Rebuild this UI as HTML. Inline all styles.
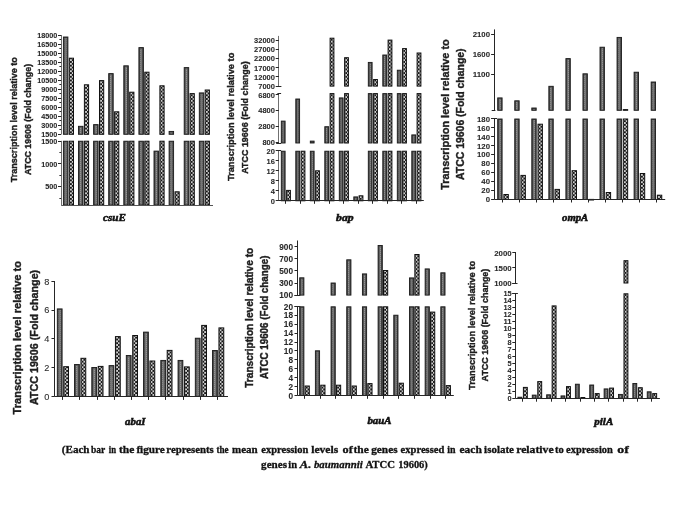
<!DOCTYPE html><html><head><meta charset="utf-8"><style>html,body{margin:0;padding:0;background:#fff;}svg{display:block;filter:blur(0.35px);}text{font-family:"Liberation Sans",sans-serif;fill:#2a2a2a;stroke:#2a2a2a;stroke-width:0.08px;} text.yt{fill:#1e1e1e;stroke:#1e1e1e;stroke-width:0.4px;} text.gi{font-family:"Liberation Serif",serif;font-style:italic;font-weight:bold;fill:#111;stroke:#111;stroke-width:0.55px;} text.cap{font-family:"Liberation Serif",serif;font-weight:bold;font-size:10.85px;fill:#111;stroke:#111;stroke-width:0.3px;}</style></head><body>
<svg width="685" height="513" viewBox="0 0 685 513">
<defs>
<pattern id="pd" patternUnits="userSpaceOnUse" width="2" height="2"><rect width="2" height="2" fill="#767676"/><rect x="0" y="0" width="1" height="1" fill="#959595"/></pattern>
<pattern id="pc" patternUnits="userSpaceOnUse" x="0.75" y="0" width="3.5" height="3.7"><rect width="3.5" height="3.7" fill="#161616"/><rect x="0" y="0" width="1.75" height="1.85" fill="#cfcfcf"/><rect x="1.75" y="1.85" width="1.75" height="1.85" fill="#cfcfcf"/></pattern>
</defs>
<rect width="685" height="513" fill="#fff"/>
<rect x="63.4" y="37" width="4.5" height="97.3" fill="#454545" stroke="#1a1a1a" stroke-width="0.9"/>
<rect x="64.7" y="38" width="1.9" height="95.7" fill="url(#pd)"/>
<rect x="63.4" y="141.2" width="4.5" height="63.8" fill="#454545" stroke="#1a1a1a" stroke-width="0.9"/>
<rect x="64.7" y="142.2" width="1.9" height="62.2" fill="url(#pd)"/>
<g transform="translate(69.3,0)"><rect x="0" y="58.2" width="4.2" height="76.1" fill="url(#pc)" stroke="#111" stroke-width="1.0"/></g>
<g transform="translate(69.3,0)"><rect x="0" y="141.2" width="4.2" height="63.8" fill="url(#pc)" stroke="#111" stroke-width="1.0"/></g>
<rect x="78.5" y="126.3" width="4.5" height="8" fill="#454545" stroke="#1a1a1a" stroke-width="0.9"/>
<rect x="79.8" y="127.3" width="1.9" height="6.4" fill="url(#pd)"/>
<rect x="78.5" y="141.2" width="4.5" height="63.8" fill="#454545" stroke="#1a1a1a" stroke-width="0.9"/>
<rect x="79.8" y="142.2" width="1.9" height="62.2" fill="url(#pd)"/>
<g transform="translate(84.4,0)"><rect x="0" y="84.8" width="4.2" height="49.5" fill="url(#pc)" stroke="#111" stroke-width="1.0"/></g>
<g transform="translate(84.4,0)"><rect x="0" y="141.2" width="4.2" height="63.8" fill="url(#pc)" stroke="#111" stroke-width="1.0"/></g>
<rect x="93.6" y="124.6" width="4.5" height="9.7" fill="#454545" stroke="#1a1a1a" stroke-width="0.9"/>
<rect x="94.9" y="125.6" width="1.9" height="8.1" fill="url(#pd)"/>
<rect x="93.6" y="141.2" width="4.5" height="63.8" fill="#454545" stroke="#1a1a1a" stroke-width="0.9"/>
<rect x="94.9" y="142.2" width="1.9" height="62.2" fill="url(#pd)"/>
<g transform="translate(99.5,0)"><rect x="0" y="80.6" width="4.2" height="53.7" fill="url(#pc)" stroke="#111" stroke-width="1.0"/></g>
<g transform="translate(99.5,0)"><rect x="0" y="141.2" width="4.2" height="63.8" fill="url(#pc)" stroke="#111" stroke-width="1.0"/></g>
<rect x="108.7" y="73.6" width="4.5" height="60.7" fill="#454545" stroke="#1a1a1a" stroke-width="0.9"/>
<rect x="110" y="74.6" width="1.9" height="59.1" fill="url(#pd)"/>
<rect x="108.7" y="141.2" width="4.5" height="63.8" fill="#454545" stroke="#1a1a1a" stroke-width="0.9"/>
<rect x="110" y="142.2" width="1.9" height="62.2" fill="url(#pd)"/>
<g transform="translate(114.6,0)"><rect x="0" y="111.8" width="4.2" height="22.5" fill="url(#pc)" stroke="#111" stroke-width="1.0"/></g>
<g transform="translate(114.6,0)"><rect x="0" y="141.2" width="4.2" height="63.8" fill="url(#pc)" stroke="#111" stroke-width="1.0"/></g>
<rect x="123.8" y="65.8" width="4.5" height="68.5" fill="#454545" stroke="#1a1a1a" stroke-width="0.9"/>
<rect x="125.1" y="66.8" width="1.9" height="66.9" fill="url(#pd)"/>
<rect x="123.8" y="141.2" width="4.5" height="63.8" fill="#454545" stroke="#1a1a1a" stroke-width="0.9"/>
<rect x="125.1" y="142.2" width="1.9" height="62.2" fill="url(#pd)"/>
<g transform="translate(129.7,0)"><rect x="0" y="92.2" width="4.2" height="42.1" fill="url(#pc)" stroke="#111" stroke-width="1.0"/></g>
<g transform="translate(129.7,0)"><rect x="0" y="141.2" width="4.2" height="63.8" fill="url(#pc)" stroke="#111" stroke-width="1.0"/></g>
<rect x="138.9" y="47.6" width="4.5" height="86.7" fill="#454545" stroke="#1a1a1a" stroke-width="0.9"/>
<rect x="140.2" y="48.6" width="1.9" height="85.1" fill="url(#pd)"/>
<rect x="138.9" y="141.2" width="4.5" height="63.8" fill="#454545" stroke="#1a1a1a" stroke-width="0.9"/>
<rect x="140.2" y="142.2" width="1.9" height="62.2" fill="url(#pd)"/>
<g transform="translate(144.8,0)"><rect x="0" y="72.2" width="4.2" height="62.1" fill="url(#pc)" stroke="#111" stroke-width="1.0"/></g>
<g transform="translate(144.8,0)"><rect x="0" y="141.2" width="4.2" height="63.8" fill="url(#pc)" stroke="#111" stroke-width="1.0"/></g>
<rect x="154" y="151.1" width="4.5" height="53.9" fill="#454545" stroke="#1a1a1a" stroke-width="0.9"/>
<rect x="155.3" y="152.1" width="1.9" height="52.3" fill="url(#pd)"/>
<g transform="translate(159.9,0)"><rect x="0" y="85.8" width="4.2" height="48.5" fill="url(#pc)" stroke="#111" stroke-width="1.0"/></g>
<g transform="translate(159.9,0)"><rect x="0" y="141.2" width="4.2" height="63.8" fill="url(#pc)" stroke="#111" stroke-width="1.0"/></g>
<rect x="169.1" y="131.4" width="4.5" height="2.9" fill="#454545" stroke="#1a1a1a" stroke-width="0.9"/>
<rect x="170.4" y="132.4" width="1.9" height="1.3" fill="url(#pd)"/>
<rect x="169.1" y="141.2" width="4.5" height="63.8" fill="#454545" stroke="#1a1a1a" stroke-width="0.9"/>
<rect x="170.4" y="142.2" width="1.9" height="62.2" fill="url(#pd)"/>
<g transform="translate(175,0)"><rect x="0" y="191.8" width="4.2" height="13.2" fill="url(#pc)" stroke="#111" stroke-width="1.0"/></g>
<rect x="184.2" y="67.6" width="4.5" height="66.7" fill="#454545" stroke="#1a1a1a" stroke-width="0.9"/>
<rect x="185.5" y="68.6" width="1.9" height="65.1" fill="url(#pd)"/>
<rect x="184.2" y="141.2" width="4.5" height="63.8" fill="#454545" stroke="#1a1a1a" stroke-width="0.9"/>
<rect x="185.5" y="142.2" width="1.9" height="62.2" fill="url(#pd)"/>
<g transform="translate(190.1,0)"><rect x="0" y="93.6" width="4.2" height="40.7" fill="url(#pc)" stroke="#111" stroke-width="1.0"/></g>
<g transform="translate(190.1,0)"><rect x="0" y="141.2" width="4.2" height="63.8" fill="url(#pc)" stroke="#111" stroke-width="1.0"/></g>
<rect x="199.3" y="92.9" width="4.5" height="41.4" fill="#454545" stroke="#1a1a1a" stroke-width="0.9"/>
<rect x="200.6" y="93.9" width="1.9" height="39.8" fill="url(#pd)"/>
<rect x="199.3" y="141.2" width="4.5" height="63.8" fill="#454545" stroke="#1a1a1a" stroke-width="0.9"/>
<rect x="200.6" y="142.2" width="1.9" height="62.2" fill="url(#pd)"/>
<g transform="translate(205.2,0)"><rect x="0" y="90" width="4.2" height="44.3" fill="url(#pc)" stroke="#111" stroke-width="1.0"/></g>
<g transform="translate(205.2,0)"><rect x="0" y="141.2" width="4.2" height="63.8" fill="url(#pc)" stroke="#111" stroke-width="1.0"/></g>
<line x1="61.5" y1="35" x2="61.5" y2="134.3" stroke="#707070" stroke-width="1"/>
<line x1="61.5" y1="140.8" x2="61.5" y2="205" stroke="#707070" stroke-width="1"/>
<line x1="61.2" y1="205.5" x2="213" y2="205.5" stroke="#555" stroke-width="1"/>
<line x1="58" y1="35.5" x2="61.2" y2="35.5" stroke="#262626" stroke-width="1"/>
<text x="57.3" y="38.38" font-size="8" font-weight="bold" text-anchor="end" textLength="20.15" lengthAdjust="spacingAndGlyphs">18000</text>
<line x1="59.4" y1="39.5" x2="61.2" y2="39.5" stroke="#262626" stroke-width="1"/>
<line x1="58" y1="44.5" x2="61.2" y2="44.5" stroke="#262626" stroke-width="1"/>
<text x="57.3" y="47.35" font-size="8" font-weight="bold" text-anchor="end" textLength="20.15" lengthAdjust="spacingAndGlyphs">16500</text>
<line x1="59.4" y1="48.5" x2="61.2" y2="48.5" stroke="#262626" stroke-width="1"/>
<line x1="58" y1="53.5" x2="61.2" y2="53.5" stroke="#262626" stroke-width="1"/>
<text x="57.3" y="56.32" font-size="8" font-weight="bold" text-anchor="end" textLength="20.15" lengthAdjust="spacingAndGlyphs">15000</text>
<line x1="59.4" y1="57.5" x2="61.2" y2="57.5" stroke="#262626" stroke-width="1"/>
<line x1="58" y1="62.5" x2="61.2" y2="62.5" stroke="#262626" stroke-width="1"/>
<text x="57.3" y="65.29" font-size="8" font-weight="bold" text-anchor="end" textLength="20.15" lengthAdjust="spacingAndGlyphs">13500</text>
<line x1="59.4" y1="66.5" x2="61.2" y2="66.5" stroke="#262626" stroke-width="1"/>
<line x1="58" y1="71.5" x2="61.2" y2="71.5" stroke="#262626" stroke-width="1"/>
<text x="57.3" y="74.26" font-size="8" font-weight="bold" text-anchor="end" textLength="20.15" lengthAdjust="spacingAndGlyphs">12000</text>
<line x1="59.4" y1="75.5" x2="61.2" y2="75.5" stroke="#262626" stroke-width="1"/>
<line x1="58" y1="80.5" x2="61.2" y2="80.5" stroke="#262626" stroke-width="1"/>
<text x="57.3" y="83.23" font-size="8" font-weight="bold" text-anchor="end" textLength="20.15" lengthAdjust="spacingAndGlyphs">10500</text>
<line x1="59.4" y1="84.5" x2="61.2" y2="84.5" stroke="#262626" stroke-width="1"/>
<line x1="58" y1="89.5" x2="61.2" y2="89.5" stroke="#262626" stroke-width="1"/>
<text x="57.3" y="92.2" font-size="8" font-weight="bold" text-anchor="end" textLength="16.12" lengthAdjust="spacingAndGlyphs">9000</text>
<line x1="59.4" y1="93.5" x2="61.2" y2="93.5" stroke="#262626" stroke-width="1"/>
<line x1="58" y1="98.5" x2="61.2" y2="98.5" stroke="#262626" stroke-width="1"/>
<text x="57.3" y="101.17" font-size="8" font-weight="bold" text-anchor="end" textLength="16.12" lengthAdjust="spacingAndGlyphs">7500</text>
<line x1="59.4" y1="102.5" x2="61.2" y2="102.5" stroke="#262626" stroke-width="1"/>
<line x1="58" y1="107.5" x2="61.2" y2="107.5" stroke="#262626" stroke-width="1"/>
<text x="57.3" y="110.14" font-size="8" font-weight="bold" text-anchor="end" textLength="16.12" lengthAdjust="spacingAndGlyphs">6000</text>
<line x1="59.4" y1="111.5" x2="61.2" y2="111.5" stroke="#262626" stroke-width="1"/>
<line x1="58" y1="116.5" x2="61.2" y2="116.5" stroke="#262626" stroke-width="1"/>
<text x="57.3" y="119.11" font-size="8" font-weight="bold" text-anchor="end" textLength="16.12" lengthAdjust="spacingAndGlyphs">4500</text>
<line x1="59.4" y1="120.5" x2="61.2" y2="120.5" stroke="#262626" stroke-width="1"/>
<line x1="58" y1="125.5" x2="61.2" y2="125.5" stroke="#262626" stroke-width="1"/>
<text x="57.3" y="128.08" font-size="8" font-weight="bold" text-anchor="end" textLength="16.12" lengthAdjust="spacingAndGlyphs">3000</text>
<line x1="59.4" y1="129.5" x2="61.2" y2="129.5" stroke="#262626" stroke-width="1"/>
<line x1="58" y1="134.5" x2="61.2" y2="134.5" stroke="#262626" stroke-width="1"/>
<text x="57.3" y="137.05" font-size="8" font-weight="bold" text-anchor="end" textLength="16.12" lengthAdjust="spacingAndGlyphs">1500</text>
<line x1="58" y1="141.5" x2="61.2" y2="141.5" stroke="#262626" stroke-width="1"/>
<text x="57.3" y="143.88" font-size="8" font-weight="bold" text-anchor="end" textLength="16.12" lengthAdjust="spacingAndGlyphs">1500</text>
<line x1="59.4" y1="152.5" x2="61.2" y2="152.5" stroke="#262626" stroke-width="1"/>
<line x1="58" y1="163.5" x2="61.2" y2="163.5" stroke="#262626" stroke-width="1"/>
<text x="57.3" y="166.68" font-size="8" font-weight="bold" text-anchor="end" textLength="16.12" lengthAdjust="spacingAndGlyphs">1000</text>
<line x1="59.4" y1="175.5" x2="61.2" y2="175.5" stroke="#262626" stroke-width="1"/>
<line x1="58" y1="186.5" x2="61.2" y2="186.5" stroke="#262626" stroke-width="1"/>
<text x="57.3" y="189.48" font-size="8" font-weight="bold" text-anchor="end" textLength="12.09" lengthAdjust="spacingAndGlyphs">500</text>
<line x1="59.4" y1="198.5" x2="61.2" y2="198.5" stroke="#262626" stroke-width="1"/>
<text transform="translate(16.6,182.3) rotate(-90)" x="0" y="0" font-size="9.6" font-weight="bold" class="yt" textLength="125.2" lengthAdjust="spacingAndGlyphs">Transcription level relative to</text>
<text transform="translate(30.6,174.9) rotate(-90)" x="0" y="0" font-size="9.6" font-weight="bold" class="yt" textLength="111" lengthAdjust="spacingAndGlyphs">ATCC 19606 (Fold change)</text>
<text x="103" y="221.2" class="gi" style="font-size:10.9px" textLength="22.9" lengthAdjust="spacingAndGlyphs" fill="#111">csuE</text>
<rect x="281.3" y="121.1" width="3.8" height="21.9" fill="#454545" stroke="#1a1a1a" stroke-width="0.9"/>
<rect x="282.6" y="122.1" width="1.2" height="20.3" fill="url(#pd)"/>
<rect x="281.3" y="151.2" width="3.8" height="49.6" fill="#454545" stroke="#1a1a1a" stroke-width="0.9"/>
<rect x="282.6" y="152.2" width="1.2" height="48" fill="url(#pd)"/>
<g transform="translate(286.6,0)"><rect x="0" y="190.4" width="3.8" height="10.4" fill="url(#pc)" stroke="#111" stroke-width="1.0"/></g>
<rect x="295.8" y="99" width="3.8" height="44" fill="#454545" stroke="#1a1a1a" stroke-width="0.9"/>
<rect x="297.1" y="100" width="1.2" height="42.4" fill="url(#pd)"/>
<rect x="295.8" y="151.2" width="3.8" height="49.6" fill="#454545" stroke="#1a1a1a" stroke-width="0.9"/>
<rect x="297.1" y="152.2" width="1.2" height="48" fill="url(#pd)"/>
<g transform="translate(301.1,0)"><rect x="0" y="151.2" width="3.8" height="49.6" fill="url(#pc)" stroke="#111" stroke-width="1.0"/></g>
<rect x="310.3" y="141.1" width="3.8" height="1.9" fill="#454545" stroke="#1a1a1a" stroke-width="0.9"/>
<rect x="310.3" y="151.2" width="3.8" height="49.6" fill="#454545" stroke="#1a1a1a" stroke-width="0.9"/>
<rect x="311.6" y="152.2" width="1.2" height="48" fill="url(#pd)"/>
<g transform="translate(315.6,0)"><rect x="0" y="170.8" width="3.8" height="30" fill="url(#pc)" stroke="#111" stroke-width="1.0"/></g>
<rect x="324.8" y="126.7" width="3.8" height="16.3" fill="#454545" stroke="#1a1a1a" stroke-width="0.9"/>
<rect x="326.1" y="127.7" width="1.2" height="14.7" fill="url(#pd)"/>
<rect x="324.8" y="151.2" width="3.8" height="49.6" fill="#454545" stroke="#1a1a1a" stroke-width="0.9"/>
<rect x="326.1" y="152.2" width="1.2" height="48" fill="url(#pd)"/>
<g transform="translate(330.1,0)"><rect x="0" y="38.2" width="3.8" height="47.9" fill="url(#pc)" stroke="#111" stroke-width="1.0"/></g>
<g transform="translate(330.1,0)"><rect x="0" y="93.6" width="3.8" height="49.4" fill="url(#pc)" stroke="#111" stroke-width="1.0"/></g>
<g transform="translate(330.1,0)"><rect x="0" y="151.2" width="3.8" height="49.6" fill="url(#pc)" stroke="#111" stroke-width="1.0"/></g>
<rect x="339.3" y="97.9" width="3.8" height="45.1" fill="#454545" stroke="#1a1a1a" stroke-width="0.9"/>
<rect x="340.6" y="98.9" width="1.2" height="43.5" fill="url(#pd)"/>
<rect x="339.3" y="151.2" width="3.8" height="49.6" fill="#454545" stroke="#1a1a1a" stroke-width="0.9"/>
<rect x="340.6" y="152.2" width="1.2" height="48" fill="url(#pd)"/>
<g transform="translate(344.6,0)"><rect x="0" y="57.7" width="3.8" height="28.4" fill="url(#pc)" stroke="#111" stroke-width="1.0"/></g>
<g transform="translate(344.6,0)"><rect x="0" y="93.6" width="3.8" height="49.4" fill="url(#pc)" stroke="#111" stroke-width="1.0"/></g>
<g transform="translate(344.6,0)"><rect x="0" y="151.2" width="3.8" height="49.6" fill="url(#pc)" stroke="#111" stroke-width="1.0"/></g>
<rect x="353.8" y="196.9" width="3.8" height="3.9" fill="#454545" stroke="#1a1a1a" stroke-width="0.9"/>
<rect x="355.1" y="197.9" width="1.2" height="2.3" fill="url(#pd)"/>
<g transform="translate(359.1,0)"><rect x="0" y="195.8" width="3.8" height="5" fill="url(#pc)" stroke="#111" stroke-width="1.0"/></g>
<rect x="368.3" y="62.4" width="3.8" height="23.7" fill="#454545" stroke="#1a1a1a" stroke-width="0.9"/>
<rect x="369.6" y="63.4" width="1.2" height="22.1" fill="url(#pd)"/>
<rect x="368.3" y="93.6" width="3.8" height="49.4" fill="#454545" stroke="#1a1a1a" stroke-width="0.9"/>
<rect x="369.6" y="94.6" width="1.2" height="47.8" fill="url(#pd)"/>
<rect x="368.3" y="151.2" width="3.8" height="49.6" fill="#454545" stroke="#1a1a1a" stroke-width="0.9"/>
<rect x="369.6" y="152.2" width="1.2" height="48" fill="url(#pd)"/>
<g transform="translate(373.6,0)"><rect x="0" y="79.5" width="3.8" height="6.6" fill="url(#pc)" stroke="#111" stroke-width="1.0"/></g>
<g transform="translate(373.6,0)"><rect x="0" y="93.6" width="3.8" height="49.4" fill="url(#pc)" stroke="#111" stroke-width="1.0"/></g>
<g transform="translate(373.6,0)"><rect x="0" y="151.2" width="3.8" height="49.6" fill="url(#pc)" stroke="#111" stroke-width="1.0"/></g>
<rect x="382.8" y="55" width="3.8" height="31.1" fill="#454545" stroke="#1a1a1a" stroke-width="0.9"/>
<rect x="384.1" y="56" width="1.2" height="29.5" fill="url(#pd)"/>
<rect x="382.8" y="93.6" width="3.8" height="49.4" fill="#454545" stroke="#1a1a1a" stroke-width="0.9"/>
<rect x="384.1" y="94.6" width="1.2" height="47.8" fill="url(#pd)"/>
<rect x="382.8" y="151.2" width="3.8" height="49.6" fill="#454545" stroke="#1a1a1a" stroke-width="0.9"/>
<rect x="384.1" y="152.2" width="1.2" height="48" fill="url(#pd)"/>
<g transform="translate(388.1,0)"><rect x="0" y="40.1" width="3.8" height="46" fill="url(#pc)" stroke="#111" stroke-width="1.0"/></g>
<g transform="translate(388.1,0)"><rect x="0" y="93.6" width="3.8" height="49.4" fill="url(#pc)" stroke="#111" stroke-width="1.0"/></g>
<g transform="translate(388.1,0)"><rect x="0" y="151.2" width="3.8" height="49.6" fill="url(#pc)" stroke="#111" stroke-width="1.0"/></g>
<rect x="397.3" y="70.2" width="3.8" height="15.9" fill="#454545" stroke="#1a1a1a" stroke-width="0.9"/>
<rect x="398.6" y="71.2" width="1.2" height="14.3" fill="url(#pd)"/>
<rect x="397.3" y="93.6" width="3.8" height="49.4" fill="#454545" stroke="#1a1a1a" stroke-width="0.9"/>
<rect x="398.6" y="94.6" width="1.2" height="47.8" fill="url(#pd)"/>
<rect x="397.3" y="151.2" width="3.8" height="49.6" fill="#454545" stroke="#1a1a1a" stroke-width="0.9"/>
<rect x="398.6" y="152.2" width="1.2" height="48" fill="url(#pd)"/>
<g transform="translate(402.6,0)"><rect x="0" y="48.6" width="3.8" height="37.5" fill="url(#pc)" stroke="#111" stroke-width="1.0"/></g>
<g transform="translate(402.6,0)"><rect x="0" y="93.6" width="3.8" height="49.4" fill="url(#pc)" stroke="#111" stroke-width="1.0"/></g>
<g transform="translate(402.6,0)"><rect x="0" y="151.2" width="3.8" height="49.6" fill="url(#pc)" stroke="#111" stroke-width="1.0"/></g>
<rect x="411.8" y="134.9" width="3.8" height="8.1" fill="#454545" stroke="#1a1a1a" stroke-width="0.9"/>
<rect x="413.1" y="135.9" width="1.2" height="6.5" fill="url(#pd)"/>
<rect x="411.8" y="151.2" width="3.8" height="49.6" fill="#454545" stroke="#1a1a1a" stroke-width="0.9"/>
<rect x="413.1" y="152.2" width="1.2" height="48" fill="url(#pd)"/>
<g transform="translate(417.1,0)"><rect x="0" y="53" width="3.8" height="33.1" fill="url(#pc)" stroke="#111" stroke-width="1.0"/></g>
<g transform="translate(417.1,0)"><rect x="0" y="93.6" width="3.8" height="49.4" fill="url(#pc)" stroke="#111" stroke-width="1.0"/></g>
<g transform="translate(417.1,0)"><rect x="0" y="151.2" width="3.8" height="49.6" fill="url(#pc)" stroke="#111" stroke-width="1.0"/></g>
<line x1="278.5" y1="35.9" x2="278.5" y2="86.1" stroke="#707070" stroke-width="1"/>
<line x1="276.2" y1="86.5" x2="281.4" y2="86.5" stroke="#262626" stroke-width="1"/>
<line x1="278.5" y1="93.2" x2="278.5" y2="143" stroke="#707070" stroke-width="1"/>
<line x1="277.4" y1="93.5" x2="281.1" y2="93.5" stroke="#262626" stroke-width="1"/>
<line x1="276.2" y1="143.5" x2="281.1" y2="143.5" stroke="#262626" stroke-width="1"/>
<line x1="278.5" y1="150.8" x2="278.5" y2="200.8" stroke="#707070" stroke-width="1"/>
<line x1="277.4" y1="150.5" x2="281.1" y2="150.5" stroke="#262626" stroke-width="1"/>
<line x1="278.9" y1="200.5" x2="423.8" y2="200.5" stroke="#262626" stroke-width="1"/>
<line x1="285.5" y1="200.8" x2="285.5" y2="203.8" stroke="#262626" stroke-width="1"/>
<line x1="300.5" y1="200.8" x2="300.5" y2="203.8" stroke="#262626" stroke-width="1"/>
<line x1="314.5" y1="200.8" x2="314.5" y2="203.8" stroke="#262626" stroke-width="1"/>
<line x1="329.5" y1="200.8" x2="329.5" y2="203.8" stroke="#262626" stroke-width="1"/>
<line x1="343.5" y1="200.8" x2="343.5" y2="203.8" stroke="#262626" stroke-width="1"/>
<line x1="358.5" y1="200.8" x2="358.5" y2="203.8" stroke="#262626" stroke-width="1"/>
<line x1="372.5" y1="200.8" x2="372.5" y2="203.8" stroke="#262626" stroke-width="1"/>
<line x1="387.5" y1="200.8" x2="387.5" y2="203.8" stroke="#262626" stroke-width="1"/>
<line x1="401.5" y1="200.8" x2="401.5" y2="203.8" stroke="#262626" stroke-width="1"/>
<line x1="416.5" y1="200.8" x2="416.5" y2="203.8" stroke="#262626" stroke-width="1"/>
<line x1="275.7" y1="40.5" x2="278.9" y2="40.5" stroke="#262626" stroke-width="1"/>
<text x="274.9" y="42.98" font-size="8" font-weight="bold" text-anchor="end" textLength="20.8" lengthAdjust="spacingAndGlyphs">32000</text>
<line x1="275.7" y1="49.5" x2="278.9" y2="49.5" stroke="#262626" stroke-width="1"/>
<text x="274.9" y="52.18" font-size="8" font-weight="bold" text-anchor="end" textLength="20.8" lengthAdjust="spacingAndGlyphs">27000</text>
<line x1="275.7" y1="58.5" x2="278.9" y2="58.5" stroke="#262626" stroke-width="1"/>
<text x="274.9" y="61.38" font-size="8" font-weight="bold" text-anchor="end" textLength="20.8" lengthAdjust="spacingAndGlyphs">22000</text>
<line x1="275.7" y1="67.5" x2="278.9" y2="67.5" stroke="#262626" stroke-width="1"/>
<text x="274.9" y="70.58" font-size="8" font-weight="bold" text-anchor="end" textLength="20.8" lengthAdjust="spacingAndGlyphs">17000</text>
<line x1="275.7" y1="76.5" x2="278.9" y2="76.5" stroke="#262626" stroke-width="1"/>
<text x="274.9" y="79.78" font-size="8" font-weight="bold" text-anchor="end" textLength="20.8" lengthAdjust="spacingAndGlyphs">12000</text>
<line x1="275.7" y1="86.5" x2="278.9" y2="86.5" stroke="#262626" stroke-width="1"/>
<text x="274.9" y="88.98" font-size="8" font-weight="bold" text-anchor="end" textLength="16.64" lengthAdjust="spacingAndGlyphs">7000</text>
<line x1="275.7" y1="94.5" x2="278.9" y2="94.5" stroke="#262626" stroke-width="1"/>
<text x="274.9" y="97.58" font-size="8" font-weight="bold" text-anchor="end" textLength="16.64" lengthAdjust="spacingAndGlyphs">6800</text>
<line x1="275.7" y1="110.5" x2="278.9" y2="110.5" stroke="#262626" stroke-width="1"/>
<text x="274.9" y="113.41" font-size="8" font-weight="bold" text-anchor="end" textLength="16.64" lengthAdjust="spacingAndGlyphs">4800</text>
<line x1="275.7" y1="126.5" x2="278.9" y2="126.5" stroke="#262626" stroke-width="1"/>
<text x="274.9" y="129.24" font-size="8" font-weight="bold" text-anchor="end" textLength="16.64" lengthAdjust="spacingAndGlyphs">2800</text>
<line x1="275.7" y1="142.5" x2="278.9" y2="142.5" stroke="#262626" stroke-width="1"/>
<text x="274.9" y="145.07" font-size="8" font-weight="bold" text-anchor="end" textLength="12.48" lengthAdjust="spacingAndGlyphs">800</text>
<line x1="275.7" y1="150.5" x2="278.9" y2="150.5" stroke="#262626" stroke-width="1"/>
<text x="274.9" y="153.68" font-size="8" font-weight="bold" text-anchor="end" textLength="8.32" lengthAdjust="spacingAndGlyphs">20</text>
<line x1="275.7" y1="160.5" x2="278.9" y2="160.5" stroke="#262626" stroke-width="1"/>
<text x="274.9" y="163.68" font-size="8" font-weight="bold" text-anchor="end" textLength="8.32" lengthAdjust="spacingAndGlyphs">16</text>
<line x1="275.7" y1="170.5" x2="278.9" y2="170.5" stroke="#262626" stroke-width="1"/>
<text x="274.9" y="173.68" font-size="8" font-weight="bold" text-anchor="end" textLength="8.32" lengthAdjust="spacingAndGlyphs">12</text>
<line x1="275.7" y1="180.5" x2="278.9" y2="180.5" stroke="#262626" stroke-width="1"/>
<text x="274.9" y="183.68" font-size="8" font-weight="bold" text-anchor="end" textLength="4.16" lengthAdjust="spacingAndGlyphs">8</text>
<line x1="275.7" y1="190.5" x2="278.9" y2="190.5" stroke="#262626" stroke-width="1"/>
<text x="274.9" y="193.68" font-size="8" font-weight="bold" text-anchor="end" textLength="4.16" lengthAdjust="spacingAndGlyphs">4</text>
<line x1="275.7" y1="200.5" x2="278.9" y2="200.5" stroke="#262626" stroke-width="1"/>
<text x="274.9" y="203.68" font-size="8" font-weight="bold" text-anchor="end" textLength="4.16" lengthAdjust="spacingAndGlyphs">0</text>
<text transform="translate(234.2,181.1) rotate(-90)" x="0" y="0" font-size="9.8" font-weight="bold" class="yt" textLength="128.4" lengthAdjust="spacingAndGlyphs">Transcription level relative to</text>
<text transform="translate(247.8,173.7) rotate(-90)" x="0" y="0" font-size="9.8" font-weight="bold" class="yt" textLength="112.4" lengthAdjust="spacingAndGlyphs">ATCC 19606 (Fold change)</text>
<text x="336.1" y="220.7" class="gi" style="font-size:10.9px" textLength="17.5" lengthAdjust="spacingAndGlyphs" fill="#111">bap</text>
<rect x="497.7" y="97.9" width="4.4" height="12.4" fill="#454545" stroke="#1a1a1a" stroke-width="0.9"/>
<rect x="499" y="98.9" width="1.8" height="10.8" fill="url(#pd)"/>
<rect x="497.7" y="119" width="4.4" height="80.5" fill="#454545" stroke="#1a1a1a" stroke-width="0.9"/>
<rect x="499" y="120" width="1.8" height="78.9" fill="url(#pd)"/>
<g transform="translate(503.9,0)"><rect x="0" y="194.5" width="4.4" height="5" fill="url(#pc)" stroke="#111" stroke-width="1.0"/></g>
<rect x="514.75" y="100.8" width="4.4" height="9.5" fill="#454545" stroke="#1a1a1a" stroke-width="0.9"/>
<rect x="516.05" y="101.8" width="1.8" height="7.9" fill="url(#pd)"/>
<rect x="514.75" y="119" width="4.4" height="80.5" fill="#454545" stroke="#1a1a1a" stroke-width="0.9"/>
<rect x="516.05" y="120" width="1.8" height="78.9" fill="url(#pd)"/>
<g transform="translate(520.95,0)"><rect x="0" y="175.4" width="4.4" height="24.1" fill="url(#pc)" stroke="#111" stroke-width="1.0"/></g>
<rect x="531.8" y="108" width="4.4" height="2.3" fill="#454545" stroke="#1a1a1a" stroke-width="0.9"/>
<rect x="533.1" y="109" width="1.8" height="0.7" fill="url(#pd)"/>
<rect x="531.8" y="119" width="4.4" height="80.5" fill="#454545" stroke="#1a1a1a" stroke-width="0.9"/>
<rect x="533.1" y="120" width="1.8" height="78.9" fill="url(#pd)"/>
<g transform="translate(538,0)"><rect x="0" y="124.2" width="4.4" height="75.3" fill="url(#pc)" stroke="#111" stroke-width="1.0"/></g>
<rect x="548.85" y="86.3" width="4.4" height="24" fill="#454545" stroke="#1a1a1a" stroke-width="0.9"/>
<rect x="550.15" y="87.3" width="1.8" height="22.4" fill="url(#pd)"/>
<rect x="548.85" y="119" width="4.4" height="80.5" fill="#454545" stroke="#1a1a1a" stroke-width="0.9"/>
<rect x="550.15" y="120" width="1.8" height="78.9" fill="url(#pd)"/>
<g transform="translate(555.05,0)"><rect x="0" y="189.4" width="4.4" height="10.1" fill="url(#pc)" stroke="#111" stroke-width="1.0"/></g>
<rect x="565.9" y="58.6" width="4.4" height="51.7" fill="#454545" stroke="#1a1a1a" stroke-width="0.9"/>
<rect x="567.2" y="59.6" width="1.8" height="50.1" fill="url(#pd)"/>
<rect x="565.9" y="119" width="4.4" height="80.5" fill="#454545" stroke="#1a1a1a" stroke-width="0.9"/>
<rect x="567.2" y="120" width="1.8" height="78.9" fill="url(#pd)"/>
<g transform="translate(572.1,0)"><rect x="0" y="170.7" width="4.4" height="28.8" fill="url(#pc)" stroke="#111" stroke-width="1.0"/></g>
<rect x="582.95" y="73.8" width="4.4" height="36.5" fill="#454545" stroke="#1a1a1a" stroke-width="0.9"/>
<rect x="584.25" y="74.8" width="1.8" height="34.9" fill="url(#pd)"/>
<rect x="582.95" y="119" width="4.4" height="80.5" fill="#454545" stroke="#1a1a1a" stroke-width="0.9"/>
<rect x="584.25" y="120" width="1.8" height="78.9" fill="url(#pd)"/>
<g transform="translate(589.15,0)"><rect x="0" y="199.4" width="4.4" height="0.6" fill="url(#pc)" stroke="#111" stroke-width="1.0"/></g>
<rect x="600" y="47.2" width="4.4" height="63.1" fill="#454545" stroke="#1a1a1a" stroke-width="0.9"/>
<rect x="601.3" y="48.2" width="1.8" height="61.5" fill="url(#pd)"/>
<rect x="600" y="119" width="4.4" height="80.5" fill="#454545" stroke="#1a1a1a" stroke-width="0.9"/>
<rect x="601.3" y="120" width="1.8" height="78.9" fill="url(#pd)"/>
<g transform="translate(606.2,0)"><rect x="0" y="192.5" width="4.4" height="7" fill="url(#pc)" stroke="#111" stroke-width="1.0"/></g>
<rect x="617.05" y="37.4" width="4.4" height="72.9" fill="#454545" stroke="#1a1a1a" stroke-width="0.9"/>
<rect x="618.35" y="38.4" width="1.8" height="71.3" fill="url(#pd)"/>
<rect x="617.05" y="119" width="4.4" height="80.5" fill="#454545" stroke="#1a1a1a" stroke-width="0.9"/>
<rect x="618.35" y="120" width="1.8" height="78.9" fill="url(#pd)"/>
<g transform="translate(623.25,0)"><rect x="0" y="109.6" width="4.4" height="0.7" fill="url(#pc)" stroke="#111" stroke-width="1.0"/></g>
<g transform="translate(623.25,0)"><rect x="0" y="119" width="4.4" height="80.5" fill="url(#pc)" stroke="#111" stroke-width="1.0"/></g>
<rect x="634.1" y="72.2" width="4.4" height="38.1" fill="#454545" stroke="#1a1a1a" stroke-width="0.9"/>
<rect x="635.4" y="73.2" width="1.8" height="36.5" fill="url(#pd)"/>
<rect x="634.1" y="119" width="4.4" height="80.5" fill="#454545" stroke="#1a1a1a" stroke-width="0.9"/>
<rect x="635.4" y="120" width="1.8" height="78.9" fill="url(#pd)"/>
<g transform="translate(640.3,0)"><rect x="0" y="173.5" width="4.4" height="26" fill="url(#pc)" stroke="#111" stroke-width="1.0"/></g>
<rect x="651.15" y="82" width="4.4" height="28.3" fill="#454545" stroke="#1a1a1a" stroke-width="0.9"/>
<rect x="652.45" y="83" width="1.8" height="26.7" fill="url(#pd)"/>
<rect x="651.15" y="119" width="4.4" height="80.5" fill="#454545" stroke="#1a1a1a" stroke-width="0.9"/>
<rect x="652.45" y="120" width="1.8" height="78.9" fill="url(#pd)"/>
<g transform="translate(657.35,0)"><rect x="0" y="195.2" width="4.4" height="4.3" fill="url(#pc)" stroke="#111" stroke-width="1.0"/></g>
<line x1="494.5" y1="29.4" x2="494.5" y2="110.3" stroke="#262626" stroke-width="1"/>
<line x1="491.7" y1="110.5" x2="495.4" y2="110.5" stroke="#262626" stroke-width="1"/>
<line x1="494.5" y1="118.6" x2="494.5" y2="199.5" stroke="#262626" stroke-width="1"/>
<line x1="491.2" y1="118.5" x2="497" y2="118.5" stroke="#262626" stroke-width="1"/>
<line x1="494.4" y1="199.5" x2="665.2" y2="199.5" stroke="#262626" stroke-width="1"/>
<line x1="502.5" y1="199.5" x2="502.5" y2="202.5" stroke="#262626" stroke-width="1"/>
<line x1="519.5" y1="199.5" x2="519.5" y2="202.5" stroke="#262626" stroke-width="1"/>
<line x1="536.5" y1="199.5" x2="536.5" y2="202.5" stroke="#262626" stroke-width="1"/>
<line x1="553.5" y1="199.5" x2="553.5" y2="202.5" stroke="#262626" stroke-width="1"/>
<line x1="571.5" y1="199.5" x2="571.5" y2="202.5" stroke="#262626" stroke-width="1"/>
<line x1="588.5" y1="199.5" x2="588.5" y2="202.5" stroke="#262626" stroke-width="1"/>
<line x1="605.5" y1="199.5" x2="605.5" y2="202.5" stroke="#262626" stroke-width="1"/>
<line x1="622.5" y1="199.5" x2="622.5" y2="202.5" stroke="#262626" stroke-width="1"/>
<line x1="639.5" y1="199.5" x2="639.5" y2="202.5" stroke="#262626" stroke-width="1"/>
<line x1="656.5" y1="199.5" x2="656.5" y2="202.5" stroke="#262626" stroke-width="1"/>
<line x1="491.1" y1="34.5" x2="494.4" y2="34.5" stroke="#262626" stroke-width="1"/>
<text x="490" y="36.92" font-size="8.1" font-weight="bold" text-anchor="end" textLength="17.32" lengthAdjust="spacingAndGlyphs">2100</text>
<line x1="491.1" y1="54.5" x2="494.4" y2="54.5" stroke="#262626" stroke-width="1"/>
<text x="490" y="56.97" font-size="8.1" font-weight="bold" text-anchor="end" textLength="17.32" lengthAdjust="spacingAndGlyphs">1600</text>
<line x1="491.1" y1="74.5" x2="494.4" y2="74.5" stroke="#262626" stroke-width="1"/>
<text x="490" y="77.02" font-size="8.1" font-weight="bold" text-anchor="end" textLength="17.32" lengthAdjust="spacingAndGlyphs">1100</text>
<line x1="491.1" y1="118.5" x2="494.4" y2="118.5" stroke="#262626" stroke-width="1"/>
<text x="490" y="121.72" font-size="8.1" font-weight="bold" text-anchor="end" textLength="12.99" lengthAdjust="spacingAndGlyphs">180</text>
<line x1="491.1" y1="127.5" x2="494.4" y2="127.5" stroke="#262626" stroke-width="1"/>
<text x="490" y="130.66" font-size="8.1" font-weight="bold" text-anchor="end" textLength="12.99" lengthAdjust="spacingAndGlyphs">160</text>
<line x1="491.1" y1="136.5" x2="494.4" y2="136.5" stroke="#262626" stroke-width="1"/>
<text x="490" y="139.6" font-size="8.1" font-weight="bold" text-anchor="end" textLength="12.99" lengthAdjust="spacingAndGlyphs">140</text>
<line x1="491.1" y1="145.5" x2="494.4" y2="145.5" stroke="#262626" stroke-width="1"/>
<text x="490" y="148.54" font-size="8.1" font-weight="bold" text-anchor="end" textLength="12.99" lengthAdjust="spacingAndGlyphs">120</text>
<line x1="491.1" y1="154.5" x2="494.4" y2="154.5" stroke="#262626" stroke-width="1"/>
<text x="490" y="157.48" font-size="8.1" font-weight="bold" text-anchor="end" textLength="12.99" lengthAdjust="spacingAndGlyphs">100</text>
<line x1="491.1" y1="163.5" x2="494.4" y2="163.5" stroke="#262626" stroke-width="1"/>
<text x="490" y="166.42" font-size="8.1" font-weight="bold" text-anchor="end" textLength="8.66" lengthAdjust="spacingAndGlyphs">80</text>
<line x1="491.1" y1="172.5" x2="494.4" y2="172.5" stroke="#262626" stroke-width="1"/>
<text x="490" y="175.36" font-size="8.1" font-weight="bold" text-anchor="end" textLength="8.66" lengthAdjust="spacingAndGlyphs">60</text>
<line x1="491.1" y1="181.5" x2="494.4" y2="181.5" stroke="#262626" stroke-width="1"/>
<text x="490" y="184.3" font-size="8.1" font-weight="bold" text-anchor="end" textLength="8.66" lengthAdjust="spacingAndGlyphs">40</text>
<line x1="491.1" y1="190.5" x2="494.4" y2="190.5" stroke="#262626" stroke-width="1"/>
<text x="490" y="193.24" font-size="8.1" font-weight="bold" text-anchor="end" textLength="8.66" lengthAdjust="spacingAndGlyphs">20</text>
<line x1="491.1" y1="199.5" x2="494.4" y2="199.5" stroke="#262626" stroke-width="1"/>
<text x="490" y="202.18" font-size="8.1" font-weight="bold" text-anchor="end" textLength="4.33" lengthAdjust="spacingAndGlyphs">0</text>
<text transform="translate(448.5,189.8) rotate(-90)" x="0" y="0" font-size="11" font-weight="bold" class="yt" textLength="150.5" lengthAdjust="spacingAndGlyphs">Transcription level relative to</text>
<text transform="translate(464.2,180) rotate(-90)" x="0" y="0" font-size="11" font-weight="bold" class="yt" textLength="131.6" lengthAdjust="spacingAndGlyphs">ATCC 19606 (Fold change)</text>
<text x="562" y="220.7" class="gi" style="font-size:10.9px" textLength="26.3" lengthAdjust="spacingAndGlyphs" fill="#111">ompA</text>
<rect x="57.3" y="308.9" width="4.8" height="87.5" fill="#454545" stroke="#1a1a1a" stroke-width="0.9"/>
<rect x="58.6" y="309.9" width="2.2" height="85.9" fill="url(#pd)"/>
<g transform="translate(63.7,0)"><rect x="0" y="366.7" width="4.8" height="29.7" fill="url(#pc)" stroke="#111" stroke-width="1.0"/></g>
<rect x="74.55" y="364.5" width="4.8" height="31.9" fill="#454545" stroke="#1a1a1a" stroke-width="0.9"/>
<rect x="75.85" y="365.5" width="2.2" height="30.3" fill="url(#pd)"/>
<g transform="translate(80.95,0)"><rect x="0" y="358.3" width="4.8" height="38.1" fill="url(#pc)" stroke="#111" stroke-width="1.0"/></g>
<rect x="91.8" y="367.5" width="4.8" height="28.9" fill="#454545" stroke="#1a1a1a" stroke-width="0.9"/>
<rect x="93.1" y="368.5" width="2.2" height="27.3" fill="url(#pd)"/>
<g transform="translate(98.2,0)"><rect x="0" y="366.4" width="4.8" height="30" fill="url(#pc)" stroke="#111" stroke-width="1.0"/></g>
<rect x="109.05" y="365.6" width="4.8" height="30.8" fill="#454545" stroke="#1a1a1a" stroke-width="0.9"/>
<rect x="110.35" y="366.6" width="2.2" height="29.2" fill="url(#pd)"/>
<g transform="translate(115.45,0)"><rect x="0" y="336.6" width="4.8" height="59.8" fill="url(#pc)" stroke="#111" stroke-width="1.0"/></g>
<rect x="126.3" y="355.5" width="4.8" height="40.9" fill="#454545" stroke="#1a1a1a" stroke-width="0.9"/>
<rect x="127.6" y="356.5" width="2.2" height="39.3" fill="url(#pd)"/>
<g transform="translate(132.7,0)"><rect x="0" y="335.5" width="4.8" height="60.9" fill="url(#pc)" stroke="#111" stroke-width="1.0"/></g>
<rect x="143.55" y="332.1" width="4.8" height="64.3" fill="#454545" stroke="#1a1a1a" stroke-width="0.9"/>
<rect x="144.85" y="333.1" width="2.2" height="62.7" fill="url(#pd)"/>
<g transform="translate(149.95,0)"><rect x="0" y="361" width="4.8" height="35.4" fill="url(#pc)" stroke="#111" stroke-width="1.0"/></g>
<rect x="160.8" y="360.4" width="4.8" height="36" fill="#454545" stroke="#1a1a1a" stroke-width="0.9"/>
<rect x="162.1" y="361.4" width="2.2" height="34.4" fill="url(#pd)"/>
<g transform="translate(167.2,0)"><rect x="0" y="350.4" width="4.8" height="46" fill="url(#pc)" stroke="#111" stroke-width="1.0"/></g>
<rect x="178.05" y="360.4" width="4.8" height="36" fill="#454545" stroke="#1a1a1a" stroke-width="0.9"/>
<rect x="179.35" y="361.4" width="2.2" height="34.4" fill="url(#pd)"/>
<g transform="translate(184.45,0)"><rect x="0" y="366.9" width="4.8" height="29.5" fill="url(#pc)" stroke="#111" stroke-width="1.0"/></g>
<rect x="195.3" y="338.2" width="4.8" height="58.2" fill="#454545" stroke="#1a1a1a" stroke-width="0.9"/>
<rect x="196.6" y="339.2" width="2.2" height="56.6" fill="url(#pd)"/>
<g transform="translate(201.7,0)"><rect x="0" y="325.4" width="4.8" height="71" fill="url(#pc)" stroke="#111" stroke-width="1.0"/></g>
<rect x="212.55" y="350.5" width="4.8" height="45.9" fill="#454545" stroke="#1a1a1a" stroke-width="0.9"/>
<rect x="213.85" y="351.5" width="2.2" height="44.3" fill="url(#pd)"/>
<g transform="translate(218.95,0)"><rect x="0" y="327.9" width="4.8" height="68.5" fill="url(#pc)" stroke="#111" stroke-width="1.0"/></g>
<line x1="54.5" y1="281.2" x2="54.5" y2="396.4" stroke="#262626" stroke-width="1"/>
<line x1="51.8" y1="281.5" x2="54.8" y2="281.5" stroke="#262626" stroke-width="1"/>
<line x1="54.8" y1="396.5" x2="228" y2="396.5" stroke="#262626" stroke-width="1"/>
<line x1="62.5" y1="396.4" x2="62.5" y2="399.9" stroke="#262626" stroke-width="1"/>
<line x1="79.5" y1="396.4" x2="79.5" y2="399.9" stroke="#262626" stroke-width="1"/>
<line x1="97.5" y1="396.4" x2="97.5" y2="399.9" stroke="#262626" stroke-width="1"/>
<line x1="114.5" y1="396.4" x2="114.5" y2="399.9" stroke="#262626" stroke-width="1"/>
<line x1="131.5" y1="396.4" x2="131.5" y2="399.9" stroke="#262626" stroke-width="1"/>
<line x1="148.5" y1="396.4" x2="148.5" y2="399.9" stroke="#262626" stroke-width="1"/>
<line x1="165.5" y1="396.4" x2="165.5" y2="399.9" stroke="#262626" stroke-width="1"/>
<line x1="183.5" y1="396.4" x2="183.5" y2="399.9" stroke="#262626" stroke-width="1"/>
<line x1="200.5" y1="396.4" x2="200.5" y2="399.9" stroke="#262626" stroke-width="1"/>
<line x1="217.5" y1="396.4" x2="217.5" y2="399.9" stroke="#262626" stroke-width="1"/>
<line x1="51.5" y1="281.5" x2="54.8" y2="281.5" stroke="#262626" stroke-width="1"/>
<text x="49.4" y="284.51" font-size="9.2" font-weight="normal" text-anchor="end">8</text>
<line x1="51.5" y1="310.5" x2="54.8" y2="310.5" stroke="#262626" stroke-width="1"/>
<text x="49.4" y="313.31" font-size="9.2" font-weight="normal" text-anchor="end">6</text>
<line x1="51.5" y1="338.5" x2="54.8" y2="338.5" stroke="#262626" stroke-width="1"/>
<text x="49.4" y="342.11" font-size="9.2" font-weight="normal" text-anchor="end">4</text>
<line x1="51.5" y1="367.5" x2="54.8" y2="367.5" stroke="#262626" stroke-width="1"/>
<text x="49.4" y="370.91" font-size="9.2" font-weight="normal" text-anchor="end">2</text>
<line x1="51.5" y1="396.5" x2="54.8" y2="396.5" stroke="#262626" stroke-width="1"/>
<text x="49.4" y="399.71" font-size="9.2" font-weight="normal" text-anchor="end">0</text>
<text transform="translate(20.8,414.5) rotate(-90)" x="0" y="0" font-size="11.3" font-weight="bold" class="yt" textLength="153.6" lengthAdjust="spacingAndGlyphs">Transcription level relative to</text>
<text transform="translate(37.8,405.1) rotate(-90)" x="0" y="0" font-size="11.3" font-weight="bold" class="yt" textLength="135.3" lengthAdjust="spacingAndGlyphs">ATCC 19606 (Fold change)</text>
<text x="125.1" y="424.8" class="gi" style="font-size:10.9px" textLength="20.4" lengthAdjust="spacingAndGlyphs" fill="#111">abaI</text>
<rect x="299.7" y="277.8" width="4.2" height="17.3" fill="#454545" stroke="#1a1a1a" stroke-width="0.9"/>
<rect x="301" y="278.8" width="1.6" height="15.7" fill="url(#pd)"/>
<rect x="299.7" y="306.8" width="4.2" height="88.6" fill="#454545" stroke="#1a1a1a" stroke-width="0.9"/>
<rect x="301" y="307.8" width="1.6" height="87" fill="url(#pd)"/>
<g transform="translate(305.1,0)"><rect x="0" y="386" width="4.2" height="9.4" fill="url(#pc)" stroke="#111" stroke-width="1.0"/></g>
<rect x="315.38" y="350.8" width="4.2" height="44.6" fill="#454545" stroke="#1a1a1a" stroke-width="0.9"/>
<rect x="316.68" y="351.8" width="1.6" height="43" fill="url(#pd)"/>
<g transform="translate(320.78,0)"><rect x="0" y="385.2" width="4.2" height="10.2" fill="url(#pc)" stroke="#111" stroke-width="1.0"/></g>
<rect x="331.06" y="283" width="4.2" height="12.1" fill="#454545" stroke="#1a1a1a" stroke-width="0.9"/>
<rect x="332.36" y="284" width="1.6" height="10.5" fill="url(#pd)"/>
<rect x="331.06" y="306.8" width="4.2" height="88.6" fill="#454545" stroke="#1a1a1a" stroke-width="0.9"/>
<rect x="332.36" y="307.8" width="1.6" height="87" fill="url(#pd)"/>
<g transform="translate(336.46,0)"><rect x="0" y="385.2" width="4.2" height="10.2" fill="url(#pc)" stroke="#111" stroke-width="1.0"/></g>
<rect x="346.74" y="259.8" width="4.2" height="35.3" fill="#454545" stroke="#1a1a1a" stroke-width="0.9"/>
<rect x="348.04" y="260.8" width="1.6" height="33.7" fill="url(#pd)"/>
<rect x="346.74" y="306.8" width="4.2" height="88.6" fill="#454545" stroke="#1a1a1a" stroke-width="0.9"/>
<rect x="348.04" y="307.8" width="1.6" height="87" fill="url(#pd)"/>
<g transform="translate(352.14,0)"><rect x="0" y="386" width="4.2" height="9.4" fill="url(#pc)" stroke="#111" stroke-width="1.0"/></g>
<rect x="362.42" y="273.9" width="4.2" height="21.2" fill="#454545" stroke="#1a1a1a" stroke-width="0.9"/>
<rect x="363.72" y="274.9" width="1.6" height="19.6" fill="url(#pd)"/>
<rect x="362.42" y="306.8" width="4.2" height="88.6" fill="#454545" stroke="#1a1a1a" stroke-width="0.9"/>
<rect x="363.72" y="307.8" width="1.6" height="87" fill="url(#pd)"/>
<g transform="translate(367.82,0)"><rect x="0" y="383.6" width="4.2" height="11.8" fill="url(#pc)" stroke="#111" stroke-width="1.0"/></g>
<rect x="378.1" y="245.5" width="4.2" height="49.6" fill="#454545" stroke="#1a1a1a" stroke-width="0.9"/>
<rect x="379.4" y="246.5" width="1.6" height="48" fill="url(#pd)"/>
<rect x="378.1" y="306.8" width="4.2" height="88.6" fill="#454545" stroke="#1a1a1a" stroke-width="0.9"/>
<rect x="379.4" y="307.8" width="1.6" height="87" fill="url(#pd)"/>
<g transform="translate(383.5,0)"><rect x="0" y="270.5" width="4.2" height="24.6" fill="url(#pc)" stroke="#111" stroke-width="1.0"/></g>
<g transform="translate(383.5,0)"><rect x="0" y="306.8" width="4.2" height="88.6" fill="url(#pc)" stroke="#111" stroke-width="1.0"/></g>
<rect x="393.78" y="315.2" width="4.2" height="80.2" fill="#454545" stroke="#1a1a1a" stroke-width="0.9"/>
<rect x="395.08" y="316.2" width="1.6" height="78.6" fill="url(#pd)"/>
<g transform="translate(399.18,0)"><rect x="0" y="383.2" width="4.2" height="12.2" fill="url(#pc)" stroke="#111" stroke-width="1.0"/></g>
<rect x="409.46" y="277.9" width="4.2" height="17.2" fill="#454545" stroke="#1a1a1a" stroke-width="0.9"/>
<rect x="410.76" y="278.9" width="1.6" height="15.6" fill="url(#pd)"/>
<rect x="409.46" y="306.8" width="4.2" height="88.6" fill="#454545" stroke="#1a1a1a" stroke-width="0.9"/>
<rect x="410.76" y="307.8" width="1.6" height="87" fill="url(#pd)"/>
<g transform="translate(414.86,0)"><rect x="0" y="254.5" width="4.2" height="40.6" fill="url(#pc)" stroke="#111" stroke-width="1.0"/></g>
<g transform="translate(414.86,0)"><rect x="0" y="306.8" width="4.2" height="88.6" fill="url(#pc)" stroke="#111" stroke-width="1.0"/></g>
<rect x="425.14" y="268.9" width="4.2" height="26.2" fill="#454545" stroke="#1a1a1a" stroke-width="0.9"/>
<rect x="426.44" y="269.9" width="1.6" height="24.6" fill="url(#pd)"/>
<rect x="425.14" y="306.8" width="4.2" height="88.6" fill="#454545" stroke="#1a1a1a" stroke-width="0.9"/>
<rect x="426.44" y="307.8" width="1.6" height="87" fill="url(#pd)"/>
<g transform="translate(430.54,0)"><rect x="0" y="312.1" width="4.2" height="83.3" fill="url(#pc)" stroke="#111" stroke-width="1.0"/></g>
<rect x="440.82" y="272.8" width="4.2" height="22.3" fill="#454545" stroke="#1a1a1a" stroke-width="0.9"/>
<rect x="442.12" y="273.8" width="1.6" height="20.7" fill="url(#pd)"/>
<rect x="440.82" y="306.8" width="4.2" height="88.6" fill="#454545" stroke="#1a1a1a" stroke-width="0.9"/>
<rect x="442.12" y="307.8" width="1.6" height="87" fill="url(#pd)"/>
<g transform="translate(446.22,0)"><rect x="0" y="385.6" width="4.2" height="9.8" fill="url(#pc)" stroke="#111" stroke-width="1.0"/></g>
<line x1="297.5" y1="240.5" x2="297.5" y2="295.1" stroke="#262626" stroke-width="1"/>
<line x1="294.5" y1="295.5" x2="300.4" y2="295.5" stroke="#262626" stroke-width="1"/>
<line x1="297.5" y1="306.4" x2="297.5" y2="395.4" stroke="#262626" stroke-width="1"/>
<line x1="294.5" y1="306.5" x2="300.4" y2="306.5" stroke="#262626" stroke-width="1"/>
<line x1="297.8" y1="395.5" x2="453.8" y2="395.5" stroke="#262626" stroke-width="1"/>
<line x1="304.5" y1="395.4" x2="304.5" y2="398.8" stroke="#262626" stroke-width="1"/>
<line x1="320.5" y1="395.4" x2="320.5" y2="398.8" stroke="#262626" stroke-width="1"/>
<line x1="335.5" y1="395.4" x2="335.5" y2="398.8" stroke="#262626" stroke-width="1"/>
<line x1="351.5" y1="395.4" x2="351.5" y2="398.8" stroke="#262626" stroke-width="1"/>
<line x1="367.5" y1="395.4" x2="367.5" y2="398.8" stroke="#262626" stroke-width="1"/>
<line x1="383.5" y1="395.4" x2="383.5" y2="398.8" stroke="#262626" stroke-width="1"/>
<line x1="398.5" y1="395.4" x2="398.5" y2="398.8" stroke="#262626" stroke-width="1"/>
<line x1="414.5" y1="395.4" x2="414.5" y2="398.8" stroke="#262626" stroke-width="1"/>
<line x1="430.5" y1="395.4" x2="430.5" y2="398.8" stroke="#262626" stroke-width="1"/>
<line x1="445.5" y1="395.4" x2="445.5" y2="398.8" stroke="#262626" stroke-width="1"/>
<line x1="294.5" y1="246.5" x2="297.8" y2="246.5" stroke="#262626" stroke-width="1"/>
<text x="293" y="249.97" font-size="8.8" font-weight="bold" text-anchor="end" textLength="13.8" lengthAdjust="spacingAndGlyphs">900</text>
<line x1="294.5" y1="258.5" x2="297.8" y2="258.5" stroke="#262626" stroke-width="1"/>
<text x="293" y="262.05" font-size="8.8" font-weight="bold" text-anchor="end" textLength="13.8" lengthAdjust="spacingAndGlyphs">700</text>
<line x1="294.5" y1="270.5" x2="297.8" y2="270.5" stroke="#262626" stroke-width="1"/>
<text x="293" y="274.13" font-size="8.8" font-weight="bold" text-anchor="end" textLength="13.8" lengthAdjust="spacingAndGlyphs">500</text>
<line x1="294.5" y1="283.5" x2="297.8" y2="283.5" stroke="#262626" stroke-width="1"/>
<text x="293" y="286.21" font-size="8.8" font-weight="bold" text-anchor="end" textLength="13.8" lengthAdjust="spacingAndGlyphs">300</text>
<line x1="294.5" y1="295.5" x2="297.8" y2="295.5" stroke="#262626" stroke-width="1"/>
<text x="293" y="298.29" font-size="8.8" font-weight="bold" text-anchor="end" textLength="13.8" lengthAdjust="spacingAndGlyphs">100</text>
<line x1="294.5" y1="306.5" x2="297.8" y2="306.5" stroke="#262626" stroke-width="1"/>
<text x="293" y="309.57" font-size="8.8" font-weight="bold" text-anchor="end" textLength="9.2" lengthAdjust="spacingAndGlyphs">20</text>
<line x1="294.5" y1="315.5" x2="297.8" y2="315.5" stroke="#262626" stroke-width="1"/>
<text x="293" y="318.47" font-size="8.8" font-weight="bold" text-anchor="end" textLength="9.2" lengthAdjust="spacingAndGlyphs">18</text>
<line x1="294.5" y1="324.5" x2="297.8" y2="324.5" stroke="#262626" stroke-width="1"/>
<text x="293" y="327.37" font-size="8.8" font-weight="bold" text-anchor="end" textLength="9.2" lengthAdjust="spacingAndGlyphs">16</text>
<line x1="294.5" y1="333.5" x2="297.8" y2="333.5" stroke="#262626" stroke-width="1"/>
<text x="293" y="336.27" font-size="8.8" font-weight="bold" text-anchor="end" textLength="9.2" lengthAdjust="spacingAndGlyphs">14</text>
<line x1="294.5" y1="342.5" x2="297.8" y2="342.5" stroke="#262626" stroke-width="1"/>
<text x="293" y="345.17" font-size="8.8" font-weight="bold" text-anchor="end" textLength="9.2" lengthAdjust="spacingAndGlyphs">12</text>
<line x1="294.5" y1="350.5" x2="297.8" y2="350.5" stroke="#262626" stroke-width="1"/>
<text x="293" y="354.07" font-size="8.8" font-weight="bold" text-anchor="end" textLength="9.2" lengthAdjust="spacingAndGlyphs">10</text>
<line x1="294.5" y1="359.5" x2="297.8" y2="359.5" stroke="#262626" stroke-width="1"/>
<text x="293" y="362.97" font-size="8.8" font-weight="bold" text-anchor="end" textLength="4.6" lengthAdjust="spacingAndGlyphs">8</text>
<line x1="294.5" y1="368.5" x2="297.8" y2="368.5" stroke="#262626" stroke-width="1"/>
<text x="293" y="371.87" font-size="8.8" font-weight="bold" text-anchor="end" textLength="4.6" lengthAdjust="spacingAndGlyphs">6</text>
<line x1="294.5" y1="377.5" x2="297.8" y2="377.5" stroke="#262626" stroke-width="1"/>
<text x="293" y="380.77" font-size="8.8" font-weight="bold" text-anchor="end" textLength="4.6" lengthAdjust="spacingAndGlyphs">4</text>
<line x1="294.5" y1="386.5" x2="297.8" y2="386.5" stroke="#262626" stroke-width="1"/>
<text x="293" y="389.67" font-size="8.8" font-weight="bold" text-anchor="end" textLength="4.6" lengthAdjust="spacingAndGlyphs">2</text>
<line x1="294.5" y1="395.5" x2="297.8" y2="395.5" stroke="#262626" stroke-width="1"/>
<text x="293" y="398.57" font-size="8.8" font-weight="bold" text-anchor="end" textLength="4.6" lengthAdjust="spacingAndGlyphs">0</text>
<text transform="translate(253.3,387.8) rotate(-90)" x="0" y="0" font-size="10.3" font-weight="bold" class="yt" textLength="140" lengthAdjust="spacingAndGlyphs">Transcription level relative to</text>
<text transform="translate(268.1,378.9) rotate(-90)" x="0" y="0" font-size="10.3" font-weight="bold" class="yt" textLength="123.3" lengthAdjust="spacingAndGlyphs">ATCC 19606 (Fold change)</text>
<text x="367.4" y="424.3" class="gi" style="font-size:10.9px" textLength="24.1" lengthAdjust="spacingAndGlyphs" fill="#111">bauA</text>
<rect x="517.9" y="397.2" width="3.9" height="1.1" fill="#454545" stroke="#1a1a1a" stroke-width="0.9"/>
<g transform="translate(523.4,0)"><rect x="0" y="387.4" width="3.9" height="10.9" fill="url(#pc)" stroke="#111" stroke-width="1.0"/></g>
<rect x="532.27" y="395.1" width="3.9" height="3.2" fill="#454545" stroke="#1a1a1a" stroke-width="0.9"/>
<rect x="533.57" y="396.1" width="1.3" height="1.6" fill="url(#pd)"/>
<g transform="translate(537.77,0)"><rect x="0" y="381.6" width="3.9" height="16.7" fill="url(#pc)" stroke="#111" stroke-width="1.0"/></g>
<rect x="546.64" y="394.8" width="3.9" height="3.5" fill="#454545" stroke="#1a1a1a" stroke-width="0.9"/>
<rect x="547.94" y="395.8" width="1.3" height="1.9" fill="url(#pd)"/>
<g transform="translate(552.14,0)"><rect x="0" y="305.9" width="3.9" height="92.4" fill="url(#pc)" stroke="#111" stroke-width="1.0"/></g>
<rect x="561.01" y="395.9" width="3.9" height="2.4" fill="#454545" stroke="#1a1a1a" stroke-width="0.9"/>
<rect x="562.31" y="396.9" width="1.3" height="0.8" fill="url(#pd)"/>
<g transform="translate(566.51,0)"><rect x="0" y="386.6" width="3.9" height="11.7" fill="url(#pc)" stroke="#111" stroke-width="1.0"/></g>
<rect x="575.38" y="384.2" width="3.9" height="14.1" fill="#454545" stroke="#1a1a1a" stroke-width="0.9"/>
<rect x="576.68" y="385.2" width="1.3" height="12.5" fill="url(#pd)"/>
<g transform="translate(580.88,0)"><rect x="0" y="397.5" width="3.9" height="0.8" fill="url(#pc)" stroke="#111" stroke-width="1.0"/></g>
<rect x="589.75" y="385" width="3.9" height="13.3" fill="#454545" stroke="#1a1a1a" stroke-width="0.9"/>
<rect x="591.05" y="386" width="1.3" height="11.7" fill="url(#pd)"/>
<g transform="translate(595.25,0)"><rect x="0" y="393.6" width="3.9" height="4.7" fill="url(#pc)" stroke="#111" stroke-width="1.0"/></g>
<rect x="604.12" y="388.9" width="3.9" height="9.4" fill="#454545" stroke="#1a1a1a" stroke-width="0.9"/>
<rect x="605.42" y="389.9" width="1.3" height="7.8" fill="url(#pd)"/>
<g transform="translate(609.62,0)"><rect x="0" y="388.1" width="3.9" height="10.2" fill="url(#pc)" stroke="#111" stroke-width="1.0"/></g>
<rect x="618.49" y="394.4" width="3.9" height="3.9" fill="#454545" stroke="#1a1a1a" stroke-width="0.9"/>
<rect x="619.79" y="395.4" width="1.3" height="2.3" fill="url(#pd)"/>
<g transform="translate(623.99,0)"><rect x="0" y="260.7" width="3.9" height="22.3" fill="url(#pc)" stroke="#111" stroke-width="1.0"/></g>
<g transform="translate(623.99,0)"><rect x="0" y="293.8" width="3.9" height="104.5" fill="url(#pc)" stroke="#111" stroke-width="1.0"/></g>
<rect x="632.86" y="383.5" width="3.9" height="14.8" fill="#454545" stroke="#1a1a1a" stroke-width="0.9"/>
<rect x="634.16" y="384.5" width="1.3" height="13.2" fill="url(#pd)"/>
<g transform="translate(638.36,0)"><rect x="0" y="387.7" width="3.9" height="10.6" fill="url(#pc)" stroke="#111" stroke-width="1.0"/></g>
<rect x="647.23" y="391.8" width="3.9" height="6.5" fill="#454545" stroke="#1a1a1a" stroke-width="0.9"/>
<rect x="648.53" y="392.8" width="1.3" height="4.9" fill="url(#pd)"/>
<g transform="translate(652.73,0)"><rect x="0" y="393.6" width="3.9" height="4.7" fill="url(#pc)" stroke="#111" stroke-width="1.0"/></g>
<line x1="515.5" y1="252" x2="515.5" y2="283" stroke="#262626" stroke-width="1"/>
<line x1="512.3" y1="283.5" x2="517.5" y2="283.5" stroke="#262626" stroke-width="1"/>
<line x1="515.5" y1="293.4" x2="515.5" y2="398.3" stroke="#262626" stroke-width="1"/>
<line x1="512.3" y1="293.5" x2="517.9" y2="293.5" stroke="#262626" stroke-width="1"/>
<line x1="515.3" y1="398.5" x2="659.9" y2="398.5" stroke="#262626" stroke-width="1"/>
<line x1="522.5" y1="398.3" x2="522.5" y2="401.7" stroke="#262626" stroke-width="1"/>
<line x1="536.5" y1="398.3" x2="536.5" y2="401.7" stroke="#262626" stroke-width="1"/>
<line x1="551.5" y1="398.3" x2="551.5" y2="401.7" stroke="#262626" stroke-width="1"/>
<line x1="565.5" y1="398.3" x2="565.5" y2="401.7" stroke="#262626" stroke-width="1"/>
<line x1="580.5" y1="398.3" x2="580.5" y2="401.7" stroke="#262626" stroke-width="1"/>
<line x1="594.5" y1="398.3" x2="594.5" y2="401.7" stroke="#262626" stroke-width="1"/>
<line x1="608.5" y1="398.3" x2="608.5" y2="401.7" stroke="#262626" stroke-width="1"/>
<line x1="623.5" y1="398.3" x2="623.5" y2="401.7" stroke="#262626" stroke-width="1"/>
<line x1="637.5" y1="398.3" x2="637.5" y2="401.7" stroke="#262626" stroke-width="1"/>
<line x1="651.5" y1="398.3" x2="651.5" y2="401.7" stroke="#262626" stroke-width="1"/>
<line x1="512.3" y1="252.5" x2="515.3" y2="252.5" stroke="#262626" stroke-width="1"/>
<text x="511.6" y="255.78" font-size="8" font-weight="bold" text-anchor="end" textLength="17.4" lengthAdjust="spacingAndGlyphs">2000</text>
<line x1="512.3" y1="267.5" x2="515.3" y2="267.5" stroke="#262626" stroke-width="1"/>
<text x="511.6" y="270.83" font-size="8" font-weight="bold" text-anchor="end" textLength="17.4" lengthAdjust="spacingAndGlyphs">1500</text>
<line x1="512.3" y1="283.5" x2="515.3" y2="283.5" stroke="#262626" stroke-width="1"/>
<text x="511.6" y="285.88" font-size="8" font-weight="bold" text-anchor="end" textLength="17.4" lengthAdjust="spacingAndGlyphs">1000</text>
<line x1="512.3" y1="293.5" x2="515.3" y2="293.5" stroke="#262626" stroke-width="1"/>
<text x="511.6" y="296.14" font-size="7.6" font-weight="bold" text-anchor="end" textLength="8.2" lengthAdjust="spacingAndGlyphs">15</text>
<line x1="512.3" y1="300.5" x2="515.3" y2="300.5" stroke="#262626" stroke-width="1"/>
<text x="511.6" y="303.14" font-size="7.6" font-weight="bold" text-anchor="end" textLength="8.2" lengthAdjust="spacingAndGlyphs">14</text>
<line x1="512.3" y1="307.5" x2="515.3" y2="307.5" stroke="#262626" stroke-width="1"/>
<text x="511.6" y="310.14" font-size="7.6" font-weight="bold" text-anchor="end" textLength="8.2" lengthAdjust="spacingAndGlyphs">13</text>
<line x1="512.3" y1="314.5" x2="515.3" y2="314.5" stroke="#262626" stroke-width="1"/>
<text x="511.6" y="317.14" font-size="7.6" font-weight="bold" text-anchor="end" textLength="8.2" lengthAdjust="spacingAndGlyphs">12</text>
<line x1="512.3" y1="321.5" x2="515.3" y2="321.5" stroke="#262626" stroke-width="1"/>
<text x="511.6" y="324.14" font-size="7.6" font-weight="bold" text-anchor="end" textLength="8.2" lengthAdjust="spacingAndGlyphs">11</text>
<line x1="512.3" y1="328.5" x2="515.3" y2="328.5" stroke="#262626" stroke-width="1"/>
<text x="511.6" y="331.14" font-size="7.6" font-weight="bold" text-anchor="end" textLength="8.2" lengthAdjust="spacingAndGlyphs">10</text>
<line x1="512.3" y1="335.5" x2="515.3" y2="335.5" stroke="#262626" stroke-width="1"/>
<text x="511.6" y="338.14" font-size="7.6" font-weight="bold" text-anchor="end" textLength="4.1" lengthAdjust="spacingAndGlyphs">9</text>
<line x1="512.3" y1="342.5" x2="515.3" y2="342.5" stroke="#262626" stroke-width="1"/>
<text x="511.6" y="345.14" font-size="7.6" font-weight="bold" text-anchor="end" textLength="4.1" lengthAdjust="spacingAndGlyphs">8</text>
<line x1="512.3" y1="349.5" x2="515.3" y2="349.5" stroke="#262626" stroke-width="1"/>
<text x="511.6" y="352.14" font-size="7.6" font-weight="bold" text-anchor="end" textLength="4.1" lengthAdjust="spacingAndGlyphs">7</text>
<line x1="512.3" y1="356.5" x2="515.3" y2="356.5" stroke="#262626" stroke-width="1"/>
<text x="511.6" y="359.14" font-size="7.6" font-weight="bold" text-anchor="end" textLength="4.1" lengthAdjust="spacingAndGlyphs">6</text>
<line x1="512.3" y1="363.5" x2="515.3" y2="363.5" stroke="#262626" stroke-width="1"/>
<text x="511.6" y="366.14" font-size="7.6" font-weight="bold" text-anchor="end" textLength="4.1" lengthAdjust="spacingAndGlyphs">5</text>
<line x1="512.3" y1="370.5" x2="515.3" y2="370.5" stroke="#262626" stroke-width="1"/>
<text x="511.6" y="373.14" font-size="7.6" font-weight="bold" text-anchor="end" textLength="4.1" lengthAdjust="spacingAndGlyphs">4</text>
<line x1="512.3" y1="377.5" x2="515.3" y2="377.5" stroke="#262626" stroke-width="1"/>
<text x="511.6" y="380.14" font-size="7.6" font-weight="bold" text-anchor="end" textLength="4.1" lengthAdjust="spacingAndGlyphs">3</text>
<line x1="512.3" y1="384.5" x2="515.3" y2="384.5" stroke="#262626" stroke-width="1"/>
<text x="511.6" y="387.14" font-size="7.6" font-weight="bold" text-anchor="end" textLength="4.1" lengthAdjust="spacingAndGlyphs">2</text>
<line x1="512.3" y1="391.5" x2="515.3" y2="391.5" stroke="#262626" stroke-width="1"/>
<text x="511.6" y="394.14" font-size="7.6" font-weight="bold" text-anchor="end" textLength="4.1" lengthAdjust="spacingAndGlyphs">1</text>
<line x1="512.3" y1="398.5" x2="515.3" y2="398.5" stroke="#262626" stroke-width="1"/>
<text x="511.6" y="401.14" font-size="7.6" font-weight="bold" text-anchor="end" textLength="4.1" lengthAdjust="spacingAndGlyphs">0</text>
<text transform="translate(474.8,390) rotate(-90)" x="0" y="0" font-size="9.9" font-weight="bold" class="yt" textLength="129.1" lengthAdjust="spacingAndGlyphs">Transcription level relative to</text>
<text transform="translate(488.2,381.4) rotate(-90)" x="0" y="0" font-size="9.9" font-weight="bold" class="yt" textLength="112.7" lengthAdjust="spacingAndGlyphs">ATCC 19606 (Fold change)</text>
<text x="594.3" y="424.8" class="gi" style="font-size:10.9px" textLength="18.9" lengthAdjust="spacingAndGlyphs" fill="#111">pilA</text>
<text class="cap" x="61.8" y="452.5" textLength="27.7" lengthAdjust="spacingAndGlyphs">(Each</text>
<text class="cap" x="91" y="452.5" textLength="14.2" lengthAdjust="spacingAndGlyphs">bar</text>
<text class="cap" x="108.8" y="452.5" textLength="7.3" lengthAdjust="spacingAndGlyphs">in</text>
<text class="cap" x="119" y="452.5" textLength="15.4" lengthAdjust="spacingAndGlyphs">the</text>
<text class="cap" x="136.4" y="452.5" textLength="28.4" lengthAdjust="spacingAndGlyphs">figure</text>
<text class="cap" x="166.3" y="452.5" textLength="47.5" lengthAdjust="spacingAndGlyphs">represents</text>
<text class="cap" x="216.4" y="452.5" textLength="12.1" lengthAdjust="spacingAndGlyphs">the</text>
<text class="cap" x="232.1" y="452.5" textLength="25.6" lengthAdjust="spacingAndGlyphs">mean</text>
<text class="cap" x="261.3" y="452.5" textLength="47" lengthAdjust="spacingAndGlyphs">expression</text>
<text class="cap" x="311.2" y="452.5" textLength="27" lengthAdjust="spacingAndGlyphs">levels</text>
<text class="cap" x="342.6" y="452.5" textLength="10.2" lengthAdjust="spacingAndGlyphs">of</text>
<text class="cap" x="353.5" y="452.5" textLength="15.3" lengthAdjust="spacingAndGlyphs">the</text>
<text class="cap" x="371.2" y="452.5" textLength="26.4" lengthAdjust="spacingAndGlyphs">genes</text>
<text class="cap" x="400.6" y="452.5" textLength="43.8" lengthAdjust="spacingAndGlyphs">expressed</text>
<text class="cap" x="447.3" y="452.5" textLength="8.3" lengthAdjust="spacingAndGlyphs">in</text>
<text class="cap" x="459.5" y="452.5" textLength="22.4" lengthAdjust="spacingAndGlyphs">each</text>
<text class="cap" x="484.1" y="452.5" textLength="29.9" lengthAdjust="spacingAndGlyphs">isolate</text>
<text class="cap" x="516.2" y="452.5" textLength="37.5" lengthAdjust="spacingAndGlyphs">relative</text>
<text class="cap" x="555.1" y="452.5" textLength="8.8" lengthAdjust="spacingAndGlyphs">to</text>
<text class="cap" x="566.1" y="452.5" textLength="46.7" lengthAdjust="spacingAndGlyphs">expression</text>
<text class="cap" x="617.2" y="452.5" textLength="11.6" lengthAdjust="spacingAndGlyphs">of</text>
<text class="cap" x="261.1" y="467.7" textLength="25.9" lengthAdjust="spacingAndGlyphs">genes</text>
<text class="cap" x="288.3" y="467.7" textLength="8.8" lengthAdjust="spacingAndGlyphs">in</text>
<text class="cap" style="font-style:italic" x="299.8" y="467.7" textLength="11.5" lengthAdjust="spacingAndGlyphs">A.</text>
<text class="cap" style="font-style:italic" x="313.9" y="467.7" textLength="48.9" lengthAdjust="spacingAndGlyphs">baumannii</text>
<text class="cap" x="365.4" y="467.7" textLength="29.6" lengthAdjust="spacingAndGlyphs">ATCC</text>
<text class="cap" x="398.3" y="467.7" textLength="29.5" lengthAdjust="spacingAndGlyphs">19606)</text>
</svg></body></html>
